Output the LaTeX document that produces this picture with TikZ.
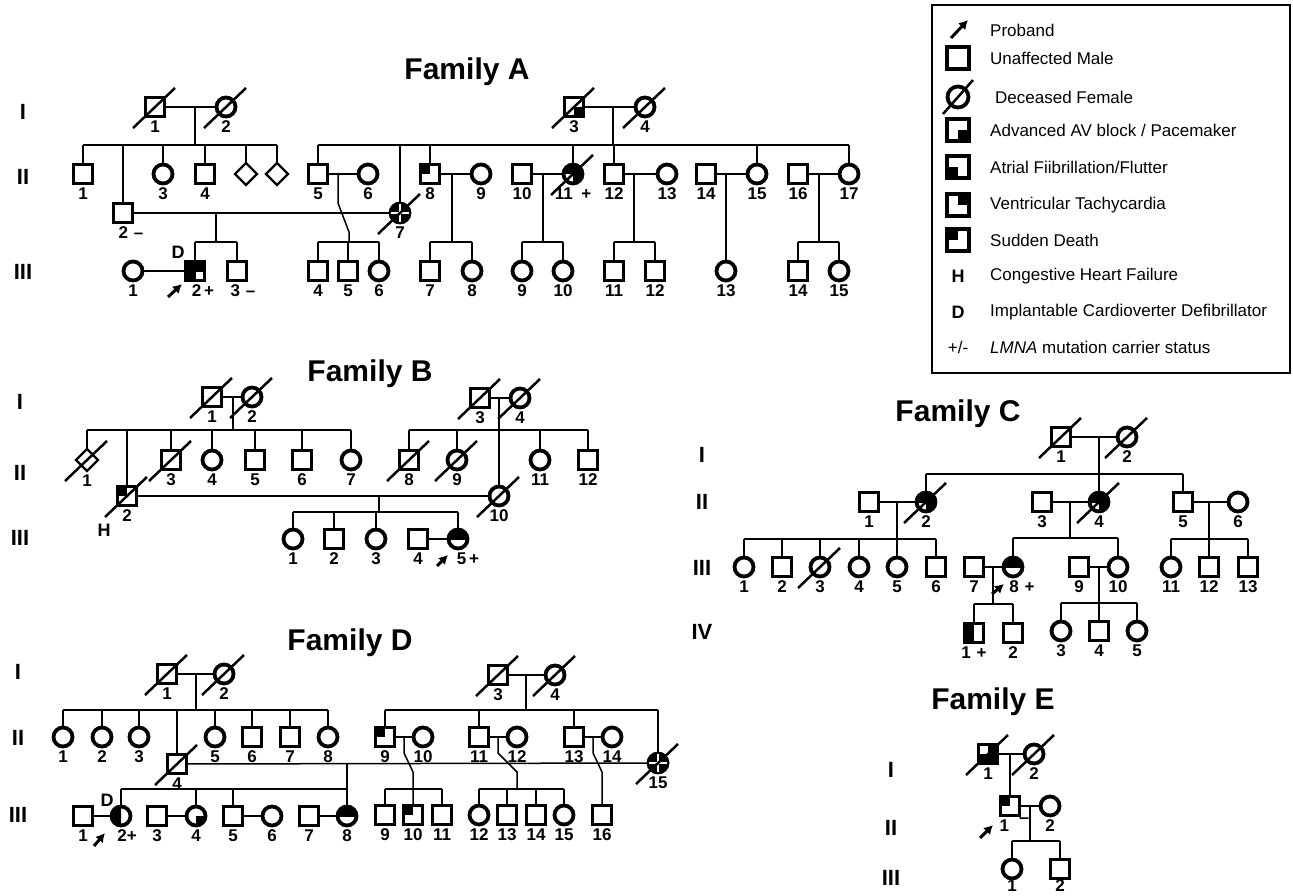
\documentclass[tikz,border=0pt]{standalone}
\usepackage{fontspec}
\setmainfont{Liberation Sans}
\usetikzlibrary{arrows.meta,shapes.geometric,calc}
\tikzset{
  msym/.style={draw, rectangle, minimum size=19pt, line width=3.8pt, inner sep=0pt, outer sep=0pt},
  fsym/.style={draw, circle, minimum size=19pt, line width=3.8pt, inner sep=0pt, outer sep=0pt},
  usym/.style={draw, diamond, minimum width=22pt, minimum height=22pt, line width=2.4pt, inner sep=0pt, outer sep=0pt},
  lsym/.style={draw, rectangle, minimum size=22pt, line width=4.4pt, inner sep=0pt, outer sep=0pt},
  ln/.style={line width=1.5pt},
  num/.style={font=\bfseries\fontsize{17}{17}\selectfont, inner sep=0pt},
  gen/.style={font=\bfseries\fontsize{22}{22}\selectfont, inner sep=0pt},
  famtitle/.style={font=\bfseries\fontsize{30}{30}\selectfont, inner sep=0pt},
  dslash/.style={line width=2.5pt},
  prob/.style={line width=3pt, -{Latex[length=9pt,width=10pt]}},
  leg/.style={font=\fontsize{17}{17}\selectfont, anchor=west, inner sep=0pt},
  legb/.style={font=\bfseries\fontsize{18}{18}\selectfont, inner sep=0pt},
}
\newcommand\Ma[4]{\node[msym,label={[num,label distance=4pt]below:#4}] (#1) at (#2,#3) {};}
\newcommand\Fe[4]{\node[fsym,label={[num,label distance=4pt]below:#4}] (#1) at (#2,#3) {};}
\newcommand\Un[4]{\node[usym,label={[num,label distance=4pt]below:#4}] (#1) at (#2,#3) {};}
% shifted label variants: name, x, y, text, xshift
\newcommand\Ms[5]{\node[msym,label={[num,label distance=4pt,xshift=#5pt]below:#4}] (#1) at (#2,#3) {};}
\newcommand\Fs[5]{\node[fsym,label={[num,label distance=4pt,xshift=#5pt]below:#4}] (#1) at (#2,#3) {};}
\newcommand\dd[1]{\draw[dslash] ($(#1)+(-22,21)$) -- ($(#1)+(20,-19)$);}
\newcommand\sqf[3]{\fill ($(#1)+(#2)$) rectangle ($(#1)+(#3)$);}
\newcommand\cif[3]{\begin{scope}\clip ($(#1)+(#2)$) rectangle ($(#1)+(#3)$); \fill (#1) circle[radius=10pt];\end{scope}}
% circle black except lower-left quadrant
\newcommand\cithree[1]{\cif{#1}{-12,-12}{12,0}\cif{#1}{0,0}{12,12}}
% circle with four filled quadrants separated by white lines
\newcommand\cifour[1]{\fill (#1) circle[radius=10pt]; \draw[white,line width=1.2pt] ($(#1)+(-9,0)$)--($(#1)+(9,0)$) ($(#1)+(0,-9)$)--($(#1)+(0,9)$);}
\begin{document}
\begin{tikzpicture}[x=1pt,y=-1pt]
\useasboundingbox (0,0) rectangle (1293,896);
\fill[white] (0,0) rectangle (1293,896);

% ================= Family A =================
\node[famtitle] (tA) at (467,72) {Family A};
\node[gen] (gAI) at (23,112) {I};
\node[gen] (gAII) at (23,177) {II};
\node[gen] (gAIII) at (23,272) {III};

\Ma{aI1}{155}{107}{1} \dd{aI1}
\Fe{aI2}{226}{107}{2} \dd{aI2}
\Ma{aI3}{574}{107}{3} \sqf{aI3}{0,0}{10,10} \dd{aI3}
\Fe{aI4}{645}{107}{4} \dd{aI4}

\Ma{aII1}{83}{174}{1}
\Ms{aII2}{123}{213}{2\,\,–}{8}
\Fe{aII3}{163}{174}{3}
\Ma{aII4}{205}{174}{4}
\Un{aU1}{246}{174}{}
\Un{aU2}{277}{174}{}
\Ma{aII5}{318}{174}{5}
\Fe{aII6}{368}{174}{6}
\Fe{aII7}{400}{213}{7} \cifour{aII7} \dd{aII7}
\Ma{aII8}{430}{174}{8} \sqf{aII8}{-10,-10}{0,0}
\Fe{aII9}{481}{174}{9}
\Ma{aII10}{522}{174}{10}
\Fe{aII11}{573}{174}{11\,\,\,+} \cithree{aII11} \dd{aII11}
\Ma{aII12}{614}{174}{12}
\Fe{aII13}{667}{174}{13}
\Ma{aII14}{706}{174}{14}
\Fe{aII15}{757}{174}{15}
\Ma{aII16}{798}{174}{16}
\Fe{aII17}{849}{174}{17}

\Fe{aIII1}{133}{271}{1}
\Ms{aIII2}{195}{271}{2\,+}{8} \fill ($(aIII2)+(-10,-10)$) rectangle ($(aIII2)+(10,10)$); \fill[white] ($(aIII2)+(1,1)$) rectangle ($(aIII2)+(8,8)$);
\node[legb] (aD) at (178,252) {D};
\coordinate (aP1) at (168,297); \draw[prob] (aP1) -- ++(14,-13);
\Ms{aIII3}{237}{271}{3\,\,–}{6}
\Ma{aIII4}{318}{271}{4}
\Ma{aIII5}{348}{271}{5}
\Fe{aIII6}{379}{271}{6}
\Ma{aIII7}{430}{271}{7}
\Fe{aIII8}{472}{271}{8}
\Fe{aIII9}{522}{271}{9}
\Fe{aIII10}{563}{271}{10}
\Ma{aIII11}{614}{271}{11}
\Ma{aIII12}{655}{271}{12}
\Fe{aIII13}{726}{271}{13}
\Ma{aIII14}{798}{271}{14}
\Fe{aIII15}{839}{271}{15}

\draw[ln] (aI1) -- (aI2);
\coordinate (jA1) at (195,107); \coordinate (sA1) at (195,145);
\draw[ln] (jA1) -- (sA1);
\draw[ln] (aII1 |- sA1) -- (aU2 |- sA1);
\foreach \c in {aII1,aII2,aII3,aII4,aU1,aU2} \draw[ln] (\c |- sA1) -- (\c);
\draw[ln] (aI3) -- (aI4);
\coordinate (jA2) at (613,107); \coordinate (sA2) at (613,145);
\draw[ln] (jA2) -- (sA2);
\draw[ln] (aII5 |- sA2) -- (aII17 |- sA2);
\foreach \c in {aII5,aII7,aII8,aII11,aII12,aII15,aII17} \draw[ln] (\c |- sA2) -- (\c);
\draw[ln] (aII2) -- (aII7);
\coordinate (jA3) at (216,213); \coordinate (sA3) at (216,242);
\draw[ln] (jA3) -- (sA3); \draw[ln] (aIII2 |- sA3) -- (aIII3 |- sA3);
\foreach \c in {aIII2,aIII3} \draw[ln] (\c |- sA3) -- (\c);
\draw[ln] (aIII1) -- (aIII2);
\draw[ln] (aII5) -- (aII6);
\coordinate (jA4) at (338,174); \coordinate (sA4) at (349,242);
\draw[ln] (jA4) -- (338,203) -- (349,232) -- (sA4);
\draw[ln] (aIII4 |- sA4) -- (aIII6 |- sA4);
\foreach \c in {aIII4,aIII5,aIII6} \draw[ln] (\c |- sA4) -- (\c);
\draw[ln] (aII8) -- (aII9);
\coordinate (jA5) at (452,174); \coordinate (sA5) at (452,242);
\draw[ln] (jA5) -- (sA5); \draw[ln] (aIII7 |- sA5) -- (aIII8 |- sA5);
\foreach \c in {aIII7,aIII8} \draw[ln] (\c |- sA5) -- (\c);
\draw[ln] (aII10) -- (aII11);
\coordinate (jA6) at (543,174); \coordinate (sA6) at (543,242);
\draw[ln] (jA6) -- (sA6); \draw[ln] (aIII9 |- sA6) -- (aIII10 |- sA6);
\foreach \c in {aIII9,aIII10} \draw[ln] (\c |- sA6) -- (\c);
\draw[ln] (aII12) -- (aII13);
\coordinate (jA7) at (634,174); \coordinate (sA7) at (634,242);
\draw[ln] (jA7) -- (sA7); \draw[ln] (aIII11 |- sA7) -- (aIII12 |- sA7);
\foreach \c in {aIII11,aIII12} \draw[ln] (\c |- sA7) -- (\c);
\draw[ln] (aII14) -- (aII15);
\coordinate (jA8) at (726,174); \draw[ln] (jA8) -- (aIII13);
\draw[ln] (aII16) -- (aII17);
\coordinate (jA9) at (819,174); \coordinate (sA9) at (819,242);
\draw[ln] (jA9) -- (sA9); \draw[ln] (aIII14 |- sA9) -- (aIII15 |- sA9);
\foreach \c in {aIII14,aIII15} \draw[ln] (\c |- sA9) -- (\c);

% ================= Legend =================
\draw[line width=1.2pt] (932,5) rectangle (1290,373);
\coordinate (lg0) at (951,38); \draw[prob] (lg0) -- ++(17,-18);
\node[leg] (lt0) at (990,30) {Proband};
\node[lsym] (lg1) at (958,58) {};
\node[leg] (lt1) at (990,58) {Unaffected Male};
\node[fsym, minimum size=21pt] (lg2) at (958,97) {}; \draw[dslash] ($(lg2)+(-15,17)$) -- ($(lg2)+(15,-17)$);
\node[leg] (lt2) at (995,97) {Deceased Female};
\node[lsym] (lg3) at (958,130) {}; \sqf{lg3}{0,0}{11,11}
\node[leg] (lt3) at (990,130) {Advanced AV block / Pacemaker};
\node[lsym] (lg4) at (958,167) {}; \sqf{lg4}{-11,0}{0,11}
\node[leg] (lt4) at (990,167) {Atrial Fiibrillation/Flutter};
\node[lsym] (lg5) at (958,205) {}; \sqf{lg5}{0,-11}{11,0}
\node[leg] (lt5) at (990,205) {Ventricular Tachycardia};
\node[lsym] (lg6) at (958,240) {}; \sqf{lg6}{-11,-11}{0,0}
\node[leg] (lt6) at (990,240) {Sudden Death};
\node[legb] (lg7) at (958,276) {H};
\node[leg] (lt7) at (990,276) {Congestive Heart Failure};
\node[legb] (lg8) at (958,312) {D};
\node[leg] (lt8) at (990,312) {Implantable Cardioverter Defibrillator};
\node[leg,anchor=center] (lg9) at (958,347) {+/-};
\node[leg] (lt9) at (990,347) {\textit{LMNA} mutation carrier status};

% ================= Family B =================
\node[famtitle] (tB) at (370,374) {Family B};
\node[gen] (gBI) at (20,402) {I};
\node[gen] (gBII) at (20,473) {II};
\node[gen] (gBIII) at (20,538) {III};

\Ma{bI1}{212}{397}{1} \dd{bI1}
\Fe{bI2}{252}{397}{2} \dd{bI2}
\Ma{bI3}{480}{398}{3} \dd{bI3}
\Fe{bI4}{520}{398}{4} \dd{bI4}
\Un{bII1}{87}{460}{1} \dd{bII1}
\Ma{bII2}{127}{496}{2} \sqf{bII2}{-10,-10}{0,0} \dd{bII2}
\node[legb] (bH) at (104,530) {H};
\Ma{bII3}{171}{460}{3} \dd{bII3}
\Fe{bII4}{212}{460}{4}
\Ma{bII5}{255}{460}{5}
\Ma{bII6}{302}{460}{6}
\Fe{bII7}{351}{460}{7}
\Ma{bII8}{409}{460}{8} \dd{bII8}
\Fe{bII9}{457}{460}{9} \dd{bII9}
\Fe{bII10}{499}{496}{10} \dd{bII10}
\Fe{bII11}{540}{460}{11}
\Ma{bII12}{588}{460}{12}
\Fe{bIII1}{293}{539}{1}
\Ma{bIII2}{334}{539}{2}
\Fe{bIII3}{376}{539}{3}
\Ma{bIII4}{418}{539}{4}
\Fs{bIII5}{458}{539}{5\,+}{10} \cif{bIII5}{-12,-12}{12,0}
\coordinate (bP1) at (437,566); \draw[prob] (bP1) -- ++(11,-11);

\draw[ln] (bI1) -- (bI2);
\coordinate (jB1) at (233,397); \coordinate (sB1) at (233,430);
\draw[ln] (jB1) -- (sB1); \draw[ln] (bII1 |- sB1) -- (bII7 |- sB1);
\foreach \c in {bII1,bII2,bII3,bII4,bII5,bII6,bII7} \draw[ln] (\c |- sB1) -- (\c);
\draw[ln] (bI3) -- (bI4);
\coordinate (jB2) at (499,398); \coordinate (sB2) at (499,430);
\draw[ln] (jB2) -- (bII10); \draw[ln] (bII8 |- sB2) -- (bII12 |- sB2);
\foreach \c in {bII8,bII9,bII11,bII12} \draw[ln] (\c |- sB2) -- (\c);
\draw[ln] (bII2) -- (bII10);
\coordinate (jB3) at (379,496); \coordinate (sB3) at (379,512);
\draw[ln] (jB3) -- (sB3); \draw[ln] (bIII1 |- sB3) -- (bIII5 |- sB3);
\foreach \c in {bIII1,bIII2,bIII3,bIII5} \draw[ln] (\c |- sB3) -- (\c);
\draw[ln] (bIII4) -- (bIII5);

% ================= Family C =================
\node[famtitle] (tC) at (958,414) {Family C};
\node[gen] (gCI) at (702,455) {I};
\node[gen] (gCII) at (702,502) {II};
\node[gen] (gCIII) at (702,568) {III};
\node[gen] (gCIV) at (702,632) {IV};

\Ma{cI1}{1061}{437}{1} \dd{cI1}
\Fe{cI2}{1127}{437}{2} \dd{cI2}
\Ma{cII1}{869}{502}{1}
\Fe{cII2}{926}{502}{2} \cithree{cII2} \dd{cII2}
\Ma{cII3}{1042}{502}{3}
\Fe{cII4}{1099}{502}{4} \cithree{cII4} \dd{cII4}
\Ma{cII5}{1183}{502}{5}
\Fe{cII6}{1238}{502}{6}
\Fe{cIII1}{744}{567}{1}
\Ma{cIII2}{782}{567}{2}
\Fe{cIII3}{820}{567}{3} \dd{cIII3}
\Fe{cIII4}{859}{567}{4}
\Fe{cIII5}{897}{567}{5}
\Ma{cIII6}{936}{567}{6}
\Ma{cIII7}{974}{567}{7}
\Fs{cIII8}{1013}{567}{8\,\,+}{9} \cif{cIII8}{-12,-12}{12,0}
\coordinate (cP1) at (992,594); \draw[prob] (cP1) -- ++(12,-10);
\Ma{cIII9}{1079}{567}{9}
\Fe{cIII10}{1118}{567}{10}
\Fe{cIII11}{1171}{567}{11}
\Ma{cIII12}{1209}{567}{12}
\Ma{cIII13}{1248}{567}{13}
\Ma{cIV1}{974}{633}{1\,\,+} \sqf{cIV1}{-10,-10}{0,10}
\Ma{cIV2}{1013}{633}{2}
\Fe{cIV3}{1061}{631}{3}
\Ma{cIV4}{1099}{631}{4}
\Fe{cIV5}{1137}{631}{5}

\draw[ln] (cI1) -- (cI2);
\coordinate (jC1) at (1099,437); \coordinate (sC1) at (1099,474);
\draw[ln] (jC1) -- (cII4); \draw[ln] (cII2 |- sC1) -- (cII5 |- sC1);
\foreach \c in {cII2,cII5} \draw[ln] (\c |- sC1) -- (\c);
\draw[ln] (cII1) -- (cII2);
\coordinate (jC2) at (897,502); \coordinate (sC2) at (897,539);
\draw[ln] (jC2) -- (sC2); \draw[ln] (cIII1 |- sC2) -- (cIII6 |- sC2);
\foreach \c in {cIII1,cIII2,cIII3,cIII4,cIII5,cIII6} \draw[ln] (\c |- sC2) -- (\c);
\draw[ln] (cII3) -- (cII4);
\coordinate (jC3) at (1070,502); \coordinate (sC3) at (1070,538);
\draw[ln] (jC3) -- (sC3); \draw[ln] (cIII8 |- sC3) -- (cIII10 |- sC3);
\foreach \c in {cIII8,cIII10} \draw[ln] (\c |- sC3) -- (\c);
\draw[ln] (cIII7) -- (cIII8);
\coordinate (jC4) at (993,567); \coordinate (sC4) at (993,604);
\draw[ln] (jC4) -- (sC4); \draw[ln] (cIV1 |- sC4) -- (cIV2 |- sC4);
\foreach \c in {cIV1,cIV2} \draw[ln] (\c |- sC4) -- (\c);
\draw[ln] (cIII9) -- (cIII10);
\coordinate (jC5) at (1099,567); \coordinate (sC5) at (1099,603);
\draw[ln] (jC5) -- (sC5); \draw[ln] (cIV3 |- sC5) -- (cIV5 |- sC5);
\foreach \c in {cIV3,cIV4,cIV5} \draw[ln] (\c |- sC5) -- (\c);
\draw[ln] (cII5) -- (cII6);
\coordinate (jC6) at (1209,502); \coordinate (sC6) at (1209,539);
\draw[ln] (jC6) -- (sC6); \draw[ln] (cIII11 |- sC6) -- (cIII13 |- sC6);
\foreach \c in {cIII11,cIII12,cIII13} \draw[ln] (\c |- sC6) -- (\c);

% ================= Family D =================
\node[famtitle] (tD) at (350,643) {Family D};
\node[gen] (gDI) at (18,672) {I};
\node[gen] (gDII) at (18,738) {II};
\node[gen] (gDIII) at (18,815) {III};

\Ma{dI1}{167}{674}{1} \dd{dI1}
\Fe{dI2}{224}{674}{2} \dd{dI2}
\Ma{dI3}{498}{675}{3} \dd{dI3}
\Fe{dI4}{555}{675}{4} \dd{dI4}
\Fe{dII1}{63}{737}{1}
\Fe{dII2}{102}{737}{2}
\Fe{dII3}{139}{737}{3}
\Ma{dII4}{177}{764}{4} \dd{dII4}
\Fe{dII5}{215}{737}{5}
\Ma{dII6}{252}{737}{6}
\Ma{dII7}{290}{737}{7}
\Fe{dII8}{328}{737}{8}
\Ma{dII9}{385}{737}{9} \sqf{dII9}{-10,-10}{0,0}
\Fe{dII10}{423}{737}{10}
\Ma{dII11}{479}{737}{11}
\Fe{dII12}{517}{737}{12}
\Ma{dII13}{574}{737}{13}
\Fe{dII14}{612}{737}{14}
\Fe{dII15}{658}{763}{15} \cifour{dII15} \dd{dII15}
\Ma{dIII1}{83}{816}{1}
\Fs{dIII2}{121}{816}{2+}{6} \cif{dIII2}{-12,-12}{0,12}
\node[legb] (dD) at (107,800) {D};
\coordinate (dP1) at (94,846); \draw[prob] (dP1) -- ++(11,-13);
\Ma{dIII3}{157}{816}{3}
\Fe{dIII4}{196}{816}{4} \cif{dIII4}{0,0}{12,12}
\Ma{dIII5}{233}{816}{5}
\Fe{dIII6}{272}{816}{6}
\Ma{dIII7}{309}{816}{7}
\Fe{dIII8}{347}{816}{8} \cif{dIII8}{-12,-12}{12,0}
\Ma{dIII9}{385}{815}{9}
\Ma{dIII10}{413}{815}{10} \sqf{dIII10}{-10,-10}{0,0}
\Ma{dIII11}{442}{815}{11}
\Fe{dIII12}{479}{815}{12}
\Ma{dIII13}{507}{815}{13}
\Ma{dIII14}{536}{815}{14}
\Fe{dIII15}{564}{815}{15}
\Ma{dIII16}{602}{815}{16}

\draw[ln] (dI1) -- (dI2);
\coordinate (jD1) at (196,674); \coordinate (sD1) at (196,710);
\draw[ln] (jD1) -- (sD1); \draw[ln] (dII1 |- sD1) -- (dII8 |- sD1);
\foreach \c in {dII1,dII2,dII3,dII4,dII5,dII6,dII7,dII8} \draw[ln] (\c |- sD1) -- (\c);
\draw[ln] (dI3) -- (dI4);
\coordinate (jD2) at (526,675); \coordinate (sD2) at (526,710);
\draw[ln] (jD2) -- (sD2); \draw[ln] (dII9 |- sD2) -- (dII15 |- sD2);
\foreach \c in {dII9,dII11,dII13,dII15} \draw[ln] (\c |- sD2) -- (\c);
\draw[ln] (dII4) -- (dII15);
\coordinate (jD3) at (347,764); \coordinate (sD3) at (347,789);
\draw[ln] (jD3) -- (sD3); \draw[ln] (dIII2 |- sD3) -- (dIII8 |- sD3);
\foreach \c in {dIII2,dIII4,dIII5,dIII8} \draw[ln] (\c |- sD3) -- (\c);
\draw[ln] (dIII1) -- (dIII2);
\draw[ln] (dIII3) -- (dIII4);
\draw[ln] (dIII5) -- (dIII6);
\draw[ln] (dIII7) -- (dIII8);
\draw[ln] (dII9) -- (dII10);
\coordinate (jD4) at (404,737); \coordinate (sD4) at (413,789);
\draw[ln] (jD4) -- (404,753) -- (413,772) -- (dIII10);
\draw[ln] (dIII9 |- sD4) -- (dIII11 |- sD4);
\foreach \c in {dIII9,dIII11} \draw[ln] (\c |- sD4) -- (\c);
\draw[ln] (dII11) -- (dII12);
\coordinate (jD5) at (498,737); \coordinate (sD5) at (517,789);
\draw[ln] (jD5) -- (498,753) -- (517,772) -- (sD5);
\draw[ln] (dIII12 |- sD5) -- (dIII15 |- sD5);
\foreach \c in {dIII12,dIII13,dIII14,dIII15} \draw[ln] (\c |- sD5) -- (\c);
\draw[ln] (dII13) -- (dII14);
\coordinate (jD6) at (593,737);
\draw[ln] (jD6) -- (593,753) -- (602,772) -- (dIII16);

% ================= Family E =================
\node[famtitle] (tE) at (993,702) {Family E};
\node[gen] (gEI) at (891,770) {I};
\node[gen] (gEII) at (891,828) {II};
\node[gen] (gEIII) at (891,878) {III};
\Ma{eI1}{988}{754}{1} \sqf{eI1}{0,-10}{10,10} \sqf{eI1}{-10,0}{0,10} \dd{eI1}
\Fe{eI2}{1034}{754}{2} \dd{eI2}
\Ma{eII1}{1010}{806}{1\,\,\,\,} \sqf{eII1}{-10,-10}{0,0}
\node[legb] (eM) at (1024,821) {–};
\Fe{eII2}{1050}{806}{2}
\node[fsym,label={[num,label distance=1pt]below:1}] (eIII1) at (1012,869) {};
\node[msym,label={[num,label distance=1pt]below:2}] (eIII2) at (1060,869) {};
\coordinate (eP1) at (980,838); \draw[prob] (eP1) -- ++(13,-13);
\draw[ln] (eI1) -- (eI2);
\coordinate (jE1) at (1010,754); \draw[ln] (jE1) -- (eII1);
\draw[ln] (eII1) -- (eII2);
\coordinate (jE2) at (1030,806); \coordinate (sE2) at (1030,841);
\draw[ln] (jE2) -- (sE2); \draw[ln] (eIII1 |- sE2) -- (eIII2 |- sE2);
\foreach \c in {eIII1,eIII2} \draw[ln] (\c |- sE2) -- (\c);
\end{tikzpicture}
\end{document}
